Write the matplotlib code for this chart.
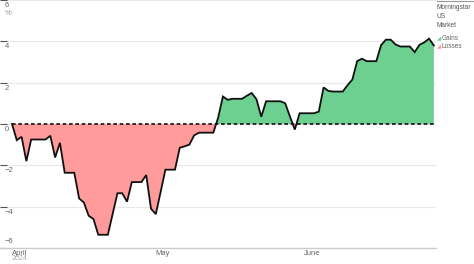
import matplotlib
matplotlib.use("Agg")
import matplotlib.pyplot as plt
import matplotlib.transforms as mtransforms
import numpy as np
import pandas as pd

plt.rcParams['font.family'] = ['Liberation Sans', 'DejaVu Sans']

# Cumulative return (%) of Morningstar US Market, one value per calendar day
start_date = "2024-04-01"
april = [0.0, -0.78, -0.62, -1.8, -0.75, -0.75, -0.75, -0.75, -0.57, -1.62,
         -0.91, -2.36, -2.36, -2.36, -3.6, -3.8, -4.44, -4.6, -5.36, -5.36,
         -5.36, -4.35, -3.35, -3.35, -3.76, -2.81, -2.81, -2.81, -2.47, -4.1]
may = [-4.36, -3.3, -2.21, -2.21, -2.21, -1.15, -1.08, -1.0, -0.55, -0.42,
       -0.42, -0.42, -0.42, 0.3, 1.33, 1.17, 1.22, 1.22, 1.22, 1.37,
       1.5, 1.2, 0.35, 1.1, 1.1, 1.1, 1.1, 1.0, 0.35, -0.27, 0.52]
june = [0.52, 0.52, 0.52, 0.6, 1.77, 1.6, 1.57, 1.57, 1.57, 1.88,
        2.15, 3.04, 3.16, 3.04, 3.04, 3.04, 3.82, 4.08, 4.08, 3.85,
        3.75, 3.75, 3.75, 3.48, 3.83, 3.95, 4.13, 3.8]
values = np.array(april + may + june)
dates = pd.date_range(start_date, periods=len(values), freq="D")

y_ticks = [6, 4, 2, 0, -2, -4, -6]
month_ticks = ["2024-04-01", "2024-05-01", "2024-06-01"]
month_labels = ["April", "May", "June"]
year_label = "2024"
legend_title = "Morningstar\nUS\nMarket"
legend_items = ["Gains", "Losses"]

gain_color = "#6dcf90"
loss_color = "#ff9b9b"
text_color = "#666666"
fs = 5.5

fig = plt.figure(figsize=(4.74, 2.64), dpi=100)
ax = fig.add_axes([0.0, 16 / 264, 436 / 474, 248 / 264])

ax.fill_between(dates, values, 0, where=values >= 0, interpolate=True,
                color=gain_color, linewidth=0, zorder=2)
ax.fill_between(dates, values, 0, where=values <= 0, interpolate=True,
                color=loss_color, linewidth=0, zorder=2)
ax.plot(dates, values, color="#111111", linewidth=1.3, zorder=4,
        solid_joinstyle="miter")
ax.plot([dates[0], dates[-1]], [0, 0], color="#111111", linewidth=1.2,
        linestyle=(0, (2.2, 1.6)), zorder=5)

ax.set_ylim(-6, 6)
ax.set_xlim(dates[0] - pd.Timedelta(days=2.5), dates[-1] + pd.Timedelta(days=0.45))

for s in ["top", "right", "left"]:
    ax.spines[s].set_visible(False)
ax.spines["bottom"].set_color("#cccccc")
ax.spines["bottom"].set_linewidth(1.0)

ax.set_yticks(y_ticks)
ax.set_yticklabels([])
ax.tick_params(axis="y", direction="in", length=5, width=0.8, color="#555555")
ax.grid(axis="y", color="#e8e8e8", linewidth=0.8, zorder=0)

# y labels drawn inside the plot, under each gridline
trans = mtransforms.blended_transform_factory(ax.transAxes, ax.transData)
for v in y_ticks:
    lab = f"{v}".replace("-", "\u2212")
    if v == -6:
        ax.text(0.011, v, lab, transform=trans + mtransforms.ScaledTranslation(0, 2 / 72, fig.dpi_scale_trans),
                ha="left", va="bottom", fontsize=fs, color=text_color)
    else:
        ax.text(0.011, v, lab, transform=trans + mtransforms.ScaledTranslation(0, -1.5 / 72, fig.dpi_scale_trans),
                ha="left", va="top", fontsize=fs, color=text_color)
ax.text(0.011, 6, "%", transform=trans + mtransforms.ScaledTranslation(0, -7.5 / 72, fig.dpi_scale_trans),
        ha="left", va="top", fontsize=fs, color="#999999")

ax.set_xticks(pd.to_datetime(month_ticks))
ax.set_xticklabels(month_labels)
ax.tick_params(axis="x", length=0, pad=1.2, labelsize=fs, labelcolor=text_color)
for lab in ax.get_xticklabels():
    lab.set_horizontalalignment("left")
year_trans = mtransforms.blended_transform_factory(ax.transData, fig.transFigure)
ax.text(pd.Timestamp(month_ticks[0]), 1.5 / 264, year_label, transform=year_trans,
        ha="left", va="bottom", fontsize=5.0, color="#aaaaaa")

# legend
lx = 436.5 / 474
fig.add_artist(plt.Line2D([lx, 1.0], [1 - 0.8 / 264, 1 - 0.8 / 264], color="#999999", linewidth=0.8))
fig.text(lx, 1 - 4 / 264, legend_title, ha="left", va="top", fontsize=4.7,
         color="#555555", linespacing=1.4)
for i, (name, col) in enumerate(zip(legend_items, [gain_color, loss_color])):
    yy = 1 - (39 + 8 * i) / 264
    fig.text(lx, yy, "\u25e2", ha="left", va="center", fontsize=4.0, color=col,
             family=["DejaVu Sans"])
    fig.text(lx + 5 / 474, yy, name, ha="left", va="center", fontsize=4.7, color="#666666")

fig.savefig("out.png", dpi=100)
